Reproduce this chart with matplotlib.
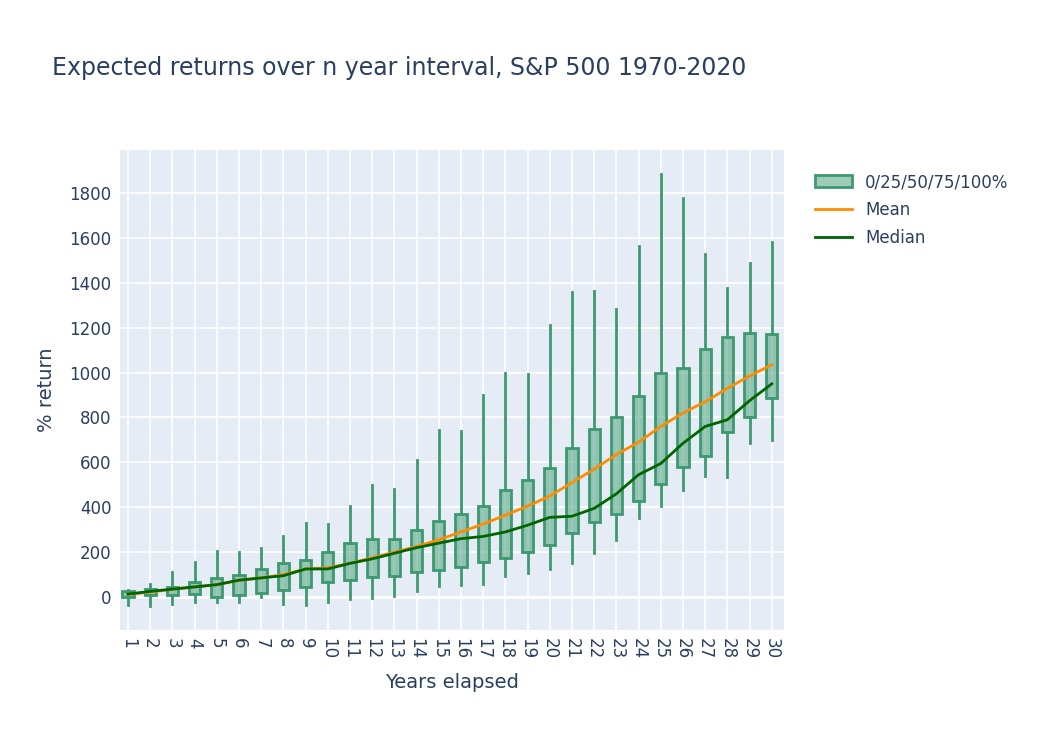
import matplotlib
matplotlib.use("Agg")
import matplotlib.pyplot as plt
from matplotlib.patches import Patch
from matplotlib.lines import Line2D
import numpy as np

years = list(range(1, 31))
lows = [-35, -40, -30, -20, -20, -20, 0, -30, -35, -20, -10, -5, 5, 25, 50, 55, 60, 95, 105, 125,
        150, 195, 255, 350, 405, 475, 540, 535, 685, 700]
q1 = [0, 10, 10, 15, 0, 10, 20, 30, 45, 65, 75, 90, 95, 110, 120, 135, 155, 175, 200, 230,
      285, 335, 370, 430, 505, 580, 630, 735, 800, 885]
q3 = [25, 35, 45, 65, 85, 100, 125, 150, 165, 200, 240, 260, 260, 300, 340, 370, 405, 475, 520, 575,
      665, 750, 800, 895, 1000, 1020, 1105, 1160, 1175, 1170]
highs = [30, 60, 110, 155, 205, 200, 220, 270, 330, 325, 405, 500, 480, 610, 745, 740, 900, 1000, 995, 1210,
         1360, 1365, 1285, 1565, 1885, 1780, 1530, 1375, 1490, 1580]
means = [12, 22, 35, 45, 55, 75, 85, 100, 125, 130, 150, 175, 200, 225, 255, 290, 325, 365, 405, 450,
         510, 570, 635, 690, 760, 820, 870, 930, 985, 1035]
medians = [13, 25, 35, 45, 55, 75, 85, 95, 125, 125, 150, 170, 195, 220, 240, 260, 270, 290, 320, 355,
           360, 395, 460, 545, 595, 685, 760, 790, 875, 950]

GREEN = "#3d9970"
BG = "#e5ecf6"
TXT = "#2a3f5f"

fig = plt.figure(figsize=(10.5, 7.5), dpi=100)
ax = fig.add_axes([120 / 1050, 120 / 750, 664 / 1050, 480 / 750])
ax.set_facecolor(BG)
for s in ax.spines.values():
    s.set_visible(False)
ax.grid(color="white", linewidth=1.2)
ax.set_axisbelow(True)

w = 0.5
for x, lo, a, b, hi in zip(years, lows, q1, q3, highs):
    ax.plot([x, x], [lo, a], color=GREEN, lw=2, zorder=2)
    ax.plot([x, x], [b, hi], color=GREEN, lw=2, zorder=2)
    ax.add_patch(plt.Rectangle((x - w / 2, a), w, b - a, facecolor=(0.24, 0.6, 0.44, 0.5),
                               edgecolor=GREEN, lw=2, zorder=3))

ax.plot(years, means, color="#ff8c00", lw=2, zorder=4)
ax.plot(years, medians, color="#006400", lw=2, zorder=5)
ax.axhline(0, color="white", lw=2, zorder=1)

ax.set_xlim(0.64, 30.55)
ax.set_ylim(-147, 1992)
ax.set_xticks(years)
ax.set_xticklabels([str(y) for y in years], rotation=-90, fontsize=12, color=TXT)
ax.set_yticks(range(0, 1801, 200))
ax.tick_params(axis="y", labelsize=12, labelcolor=TXT, length=0, pad=6)
ax.tick_params(axis="x", length=0, pad=6)
ax.set_xlabel("Years elapsed", fontsize=14, color=TXT, labelpad=10)
ax.set_ylabel("% return", fontsize=14, color=TXT, labelpad=10)

fig.text(52 / 1050, 1 - 68 / 750, "Expected returns over n year interval, S&P 500 1970-2020",
         fontsize=17, color=TXT, va="center")

handles = [Patch(facecolor=(0.24, 0.6, 0.44, 0.5), edgecolor=GREEN, lw=2),
           Line2D([], [], color="#ff8c00", lw=2),
           Line2D([], [], color="#006400", lw=2)]
fig.legend(handles, ["0/25/50/75/100%", "Mean", "Median"], loc="upper left",
           bbox_to_anchor=(800 / 1050, 1 - 158 / 750), frameon=False, fontsize=12,
           labelcolor=TXT, handlelength=2.2, labelspacing=0.6)

fig.savefig("out.png")
